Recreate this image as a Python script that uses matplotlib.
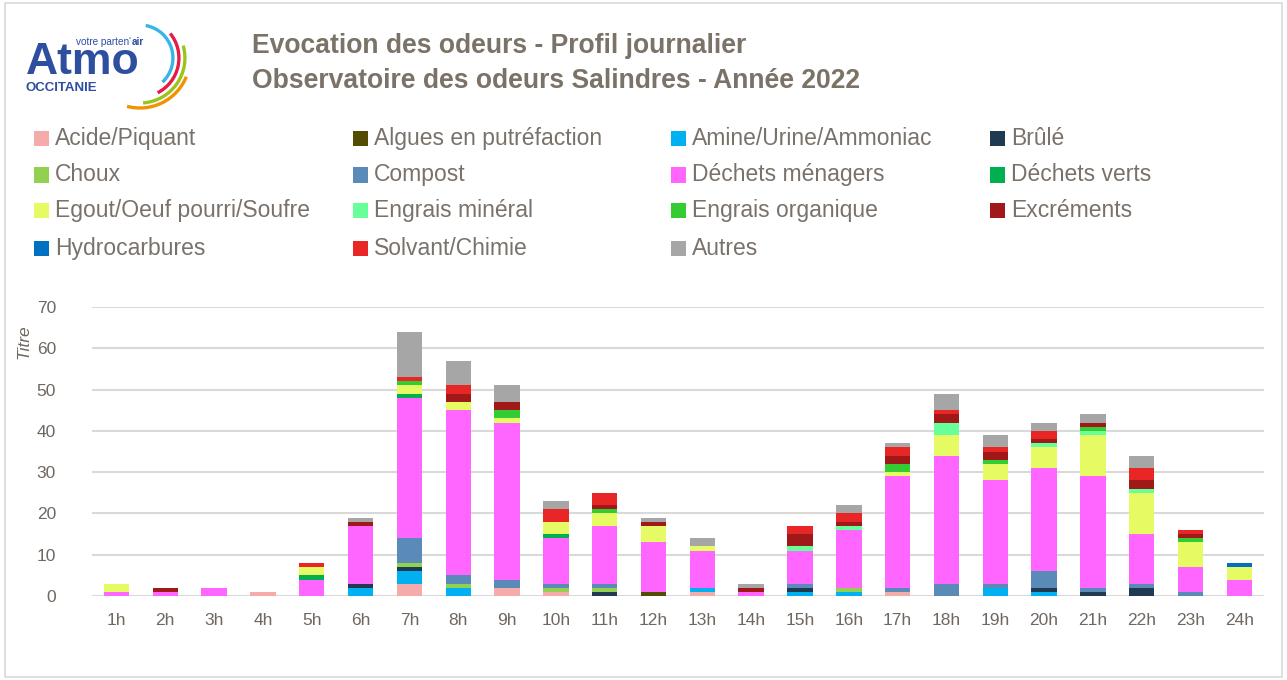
import numpy as np
import matplotlib
matplotlib.use("Agg")
import matplotlib.pyplot as plt
from matplotlib.patches import Arc, Rectangle

plt.rcParams['font.family'] = ['Liberation Sans Narrow', 'Liberation Sans', 'DejaVu Sans']

hours = ['%dh' % h for h in range(1, 25)]

# valeurs, de 1h à 24h
acide      = [0,0,0,1,0,0,3,0,2,1,0,0,1,0,0,0,1,0,0,0,0,0,0,0]
algues     = [0,0,0,0,0,0,0,0,0,0,0,1,0,0,0,0,0,0,0,0,0,0,0,0]
amine      = [0,0,0,0,0,2,3,2,0,0,0,0,1,0,1,1,0,0,2,1,0,0,0,0]
brule      = [0,0,0,0,0,1,1,0,0,0,1,0,0,0,1,0,0,0,0,1,1,2,0,0]
choux      = [0,0,0,0,0,0,1,1,0,1,1,0,0,0,0,1,0,0,0,0,0,0,0,0]
compost    = [0,0,0,0,0,0,6,2,2,1,1,0,0,0,1,0,1,3,1,4,1,1,1,0]
menagers   = [1,1,2,0,4,14,34,40,38,11,14,12,9,1,8,14,27,31,25,25,27,12,6,4]
verts      = [0,0,0,0,1,0,1,0,0,1,0,0,0,0,0,0,0,0,0,0,0,0,0,0]
egout      = [2,0,0,0,2,0,2,2,1,3,3,4,1,0,0,0,1,5,4,5,10,10,6,3]
e_mineral  = [0,0,0,0,0,0,0,0,0,0,0,0,0,0,1,1,0,3,0,1,1,1,0,0]
e_organiq  = [0,0,0,0,0,0,1,0,2,0,1,0,0,0,0,0,2,0,1,0,1,0,1,0]
excrements = [0,1,0,0,0,1,0,2,2,0,1,1,0,1,3,1,2,2,2,1,1,2,1,0]
hydrocarb  = [0,0,0,0,0,0,0,0,0,0,0,0,0,0,0,0,0,0,0,0,0,0,0,1]
solvant    = [0,0,0,0,1,0,1,2,0,3,3,0,0,0,2,2,2,1,1,2,0,3,1,0]
autres     = [0,0,0,0,0,1,11,6,4,2,0,1,2,1,0,2,1,4,3,2,2,3,0,0]

series = [
    ('Acide/Piquant', acide, '#F4ABA9'),
    ('Algues en putréfaction', algues, '#544C00'),
    ('Amine/Urine/Ammoniac', amine, '#00B0F0'),
    ('Brûlé', brule, '#203A52'),
    ('Choux', choux, '#92D050'),
    ('Compost', compost, '#5A8BB8'),
    ('Déchets ménagers', menagers, '#FF66FF'),
    ('Déchets verts', verts, '#00B050'),
    ('Egout/Oeuf pourri/Soufre', egout, '#E6FA64'),
    ('Engrais minéral', e_mineral, '#66FF99'),
    ('Engrais organique', e_organiq, '#33CC33'),
    ('Excréments', excrements, '#A01818'),
    ('Hydrocarbures', hydrocarb, '#0070C0'),
    ('Solvant/Chimie', solvant, '#E82626'),
    ('Autres', autres, '#A6A6A6'),
]

txtcol = '#7A726A'

fig = plt.figure(figsize=(12.87, 6.8), dpi=100)
fig.patches.append(Rectangle((0.004, 0.004), 0.992, 0.992, transform=fig.transFigure,
                             fill=False, edgecolor='#D9D9D9', linewidth=1.2))

ax = fig.add_axes([0.0715, 0.1235, 0.9105, 0.425])
x = np.arange(len(hours))
bottom = np.zeros(len(hours))
for name, vals, col in series:
    v = np.array(vals, dtype=float)
    ax.bar(x, v, 0.52, bottom=bottom, color=col, label=name, zorder=3)
    bottom += v

ax.set_ylim(0, 70)
ax.set_xlim(-0.5, len(hours) - 0.5)
ax.set_yticks(range(0, 71, 10))
ax.set_xticks(x)
ax.set_xticklabels(hours)
ax.grid(axis='y', color='#D9D9D9', linewidth=1.5, zorder=0)
for s in ax.spines.values():
    s.set_visible(False)
ax.tick_params(length=0, labelsize=12.5, labelcolor='#6F6760', pad=12)
ax.tick_params(axis='y', pad=26)
ax.set_ylabel('Titre', fontstyle='italic', color='#6F6760', fontsize=12.5)
ax.yaxis.set_label_coords(-0.052, 0.88)

# légende
cols_x = [0.0264, 0.2743, 0.5211, 0.7692]
rows_y = [0.7956, 0.7426, 0.6897, 0.6338]
for i, (name, vals, col) in enumerate(series):
    r, c = divmod(i, 4)
    fig.patches.append(Rectangle((cols_x[c], rows_y[r] - 0.011), 0.0117, 0.0221,
                                 transform=fig.transFigure, facecolor=col, edgecolor='none'))
    fig.text(cols_x[c] + 0.0163, rows_y[r] + 0.001, name, fontsize=16.5, color=txtcol,
             va='center', ha='left')

# titre
fig.text(0.196, 0.933, 'Evocation des odeurs - Profil journalier', fontsize=19.1,
         fontweight='bold', color='#7B7268', va='center')
fig.text(0.196, 0.881, 'Observatoire des odeurs Salindres - Année 2022', fontsize=19.1,
         fontweight='bold', color='#7B7268', va='center')

# logo (coordonnées en pixels, y vers le haut)
lax = fig.add_axes([0.0, 0.82, 0.16, 0.18])
lax.set_xlim(0, 206)
lax.set_ylim(0, 122.4)
lax.axis('off')
H = 122.4
logo_font = ['Liberation Sans', 'DejaVu Sans']
blue = '#2E4FA0'
lax.text(26, H - 74, 'Atmo', fontsize=32, fontweight='bold', color=blue,
         family=logo_font, va='baseline', ha='left')
lax.text(131, H - 42, "votre parten'", fontsize=7.2, color=blue,
         family=logo_font, va='center', ha='right')
lax.text(131.5, H - 42, "air", fontsize=7.2, fontweight='bold', color=blue,
         family=logo_font, va='center', ha='left')
lax.text(26, H - 88, 'OCCITANIE', fontsize=9.5, fontweight='bold', color=blue,
         family=logo_font, va='center', ha='left')
arcs = [(33, -47, 80, '#35B6E6'), (39, -63, 39, '#E31D47'),
        (45, -86, 16, '#9AC31C'), (50, -105, -22, '#F39200')]
for (rad, t1, t2, col) in arcs:
    lax.add_patch(Arc((140, H - 58), 2 * rad, 2 * rad, theta1=t1, theta2=t2,
                      color=col, linewidth=2.4))

fig.savefig('out.png', dpi=100)
